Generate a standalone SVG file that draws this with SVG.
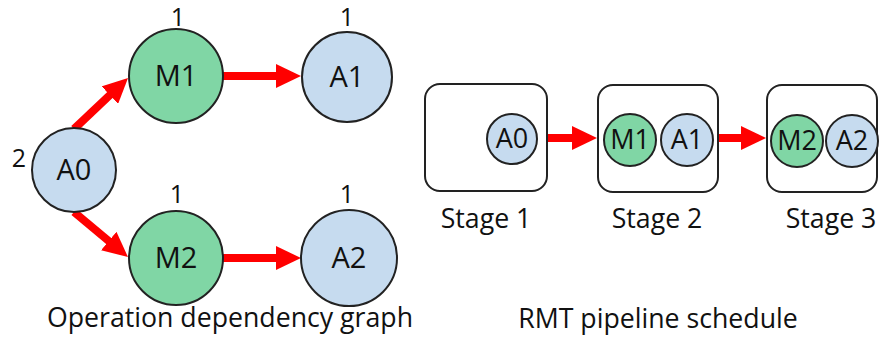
<svg xmlns="http://www.w3.org/2000/svg" width="879" height="340" viewBox="0 0 879 340">
<defs>
<style>
.t{font-family:"Open Sans","Liberation Sans",sans-serif;fill:#111;text-anchor:middle}
.big{font-size:29px}
.num{font-size:25px}
.lbl{font-size:26.7px}
.sm{font-size:27px}
.g{fill:#80d6a5;stroke:#222;stroke-width:2}
.b{fill:#c6dbef;stroke:#222;stroke-width:2}
.box{fill:#fff;stroke:#222;stroke-width:2}
.e{stroke:#ff0000;stroke-width:8;fill:none}
</style>
<marker id="ah" markerUnits="userSpaceOnUse" markerWidth="25" markerHeight="24" refX="5" refY="12" orient="auto">
<path d="M0,0 L25,12 L0,24 z" fill="#ff0000"/>
</marker>
</defs>
<rect width="879" height="340" fill="#fff"/>
<g id="connectors">
<line class="e" x1="74" y1="129" x2="113.5" y2="91.7" marker-end="url(#ah)"/>
<line class="e" x1="74" y1="212" x2="112.6" y2="244.2" marker-end="url(#ah)"/>
<line class="e" x1="223" y1="76" x2="281" y2="76" marker-end="url(#ah)"/>
<line class="e" x1="223" y1="258" x2="281" y2="258" marker-end="url(#ah)"/>
<line class="e" x1="547" y1="138" x2="577" y2="138" marker-end="url(#ah)"/>
<line class="e" x1="718" y1="138" x2="746" y2="138" marker-end="url(#ah)"/>
</g>
<g id="A0">
<circle class="b" cx="74" cy="170" r="42"/>
<text class="t big" x="74" y="180">A0</text>
<text class="t num" x="19" y="167">2</text>
</g>
<g id="M1">
<circle class="g" cx="176" cy="76" r="47"/>
<text class="t big" x="176" y="86">M1</text>
<text class="t num" x="178" y="26">1</text>
</g>
<g id="A1">
<circle class="b" cx="347" cy="77" r="45"/>
<text class="t big" x="347" y="87">A1</text>
<text class="t num" x="347" y="26">1</text>
</g>
<g id="M2">
<circle class="g" cx="176" cy="258" r="47"/>
<text class="t big" x="176" y="268">M2</text>
<text class="t num" x="177" y="203">1</text>
</g>
<g id="A2">
<circle class="b" cx="349" cy="258" r="48"/>
<text class="t big" x="349" y="268">A2</text>
<text class="t num" x="347" y="203">1</text>
</g>
<text class="t lbl" x="230" y="327">Operation dependency graph</text>
<g id="stage1">
<rect class="box" x="425" y="84" width="122" height="107" rx="15"/>
<circle class="b" cx="512" cy="139" r="25"/>
<text class="t sm" x="512" y="148">A0</text>
<text class="t lbl" x="486" y="228">Stage 1</text>
</g>
<g id="stage2">
<rect class="box" x="598" y="85" width="120" height="107" rx="15"/>
<circle class="g" cx="630" cy="140" r="26"/>
<text class="t sm" x="630" y="149">M1</text>
<circle class="b" cx="687" cy="140" r="26"/>
<text class="t sm" x="687" y="149">A1</text>
<text class="t lbl" x="657" y="228">Stage 2</text>
</g>
<g id="stage3">
<rect class="box" x="767" y="85" width="110" height="107" rx="15"/>
<circle class="g" cx="797" cy="141" r="26"/>
<text class="t sm" x="797" y="150">M2</text>
<circle class="b" cx="852" cy="141" r="26"/>
<text class="t sm" x="852" y="150">A2</text>
<text class="t lbl" x="831" y="228">Stage 3</text>
</g>
<text class="t lbl" x="658" y="328">RMT pipeline schedule</text>
</svg>
